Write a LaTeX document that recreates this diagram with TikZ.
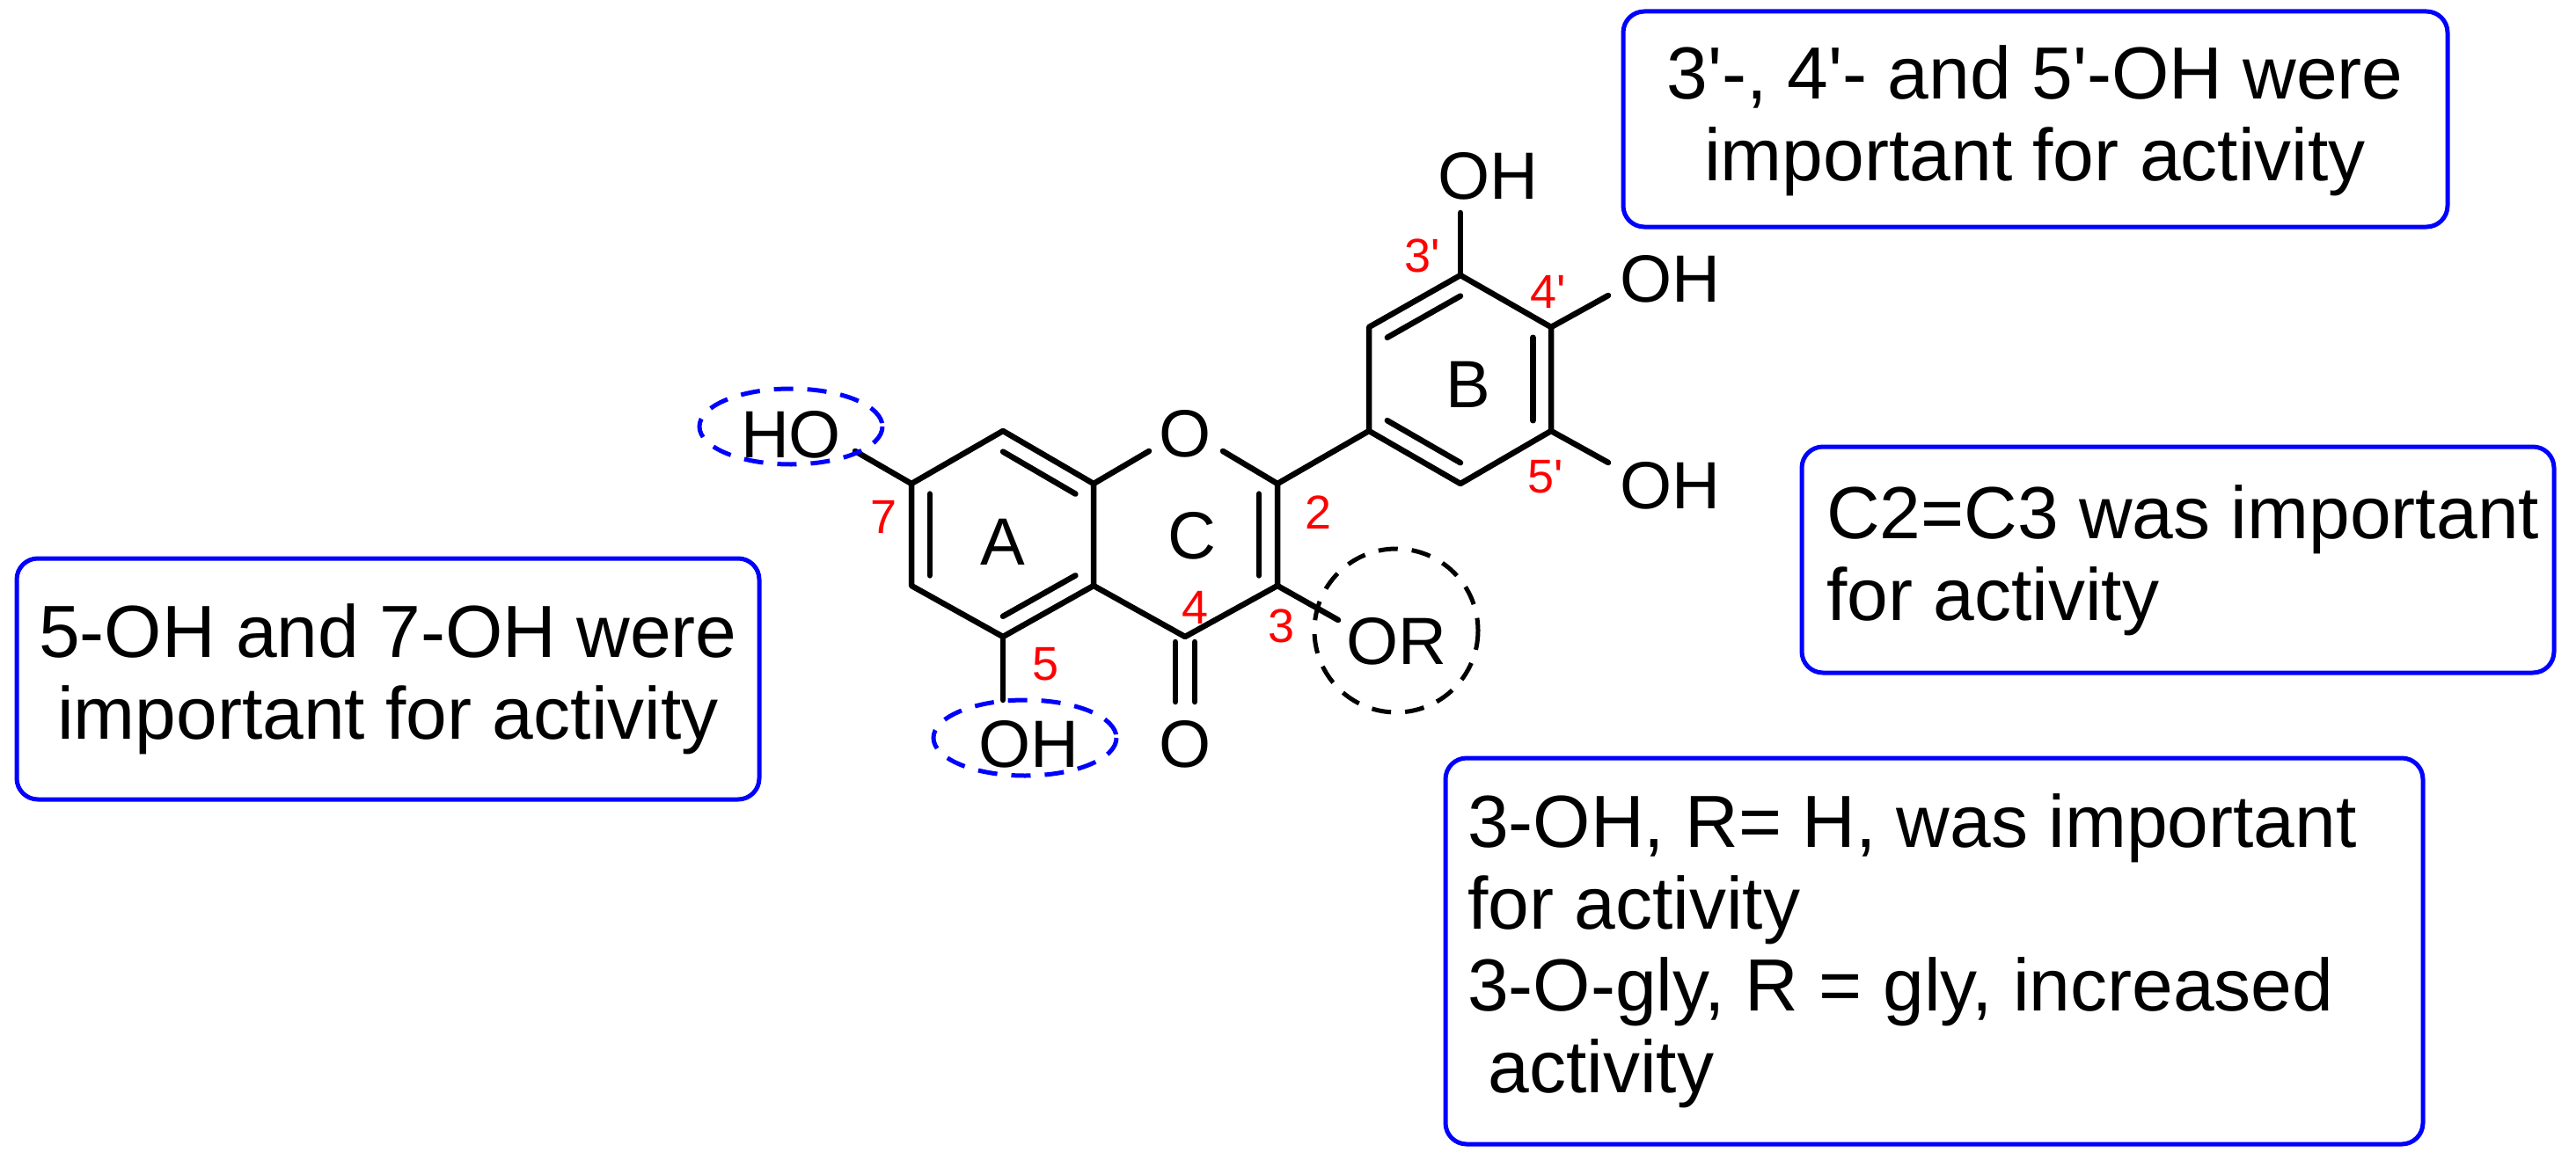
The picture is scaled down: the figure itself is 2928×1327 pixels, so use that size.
\documentclass[tikz,border=0pt]{standalone}
\usepackage{fontspec}
\setmainfont{Liberation Sans}
\usetikzlibrary{calc}
\newcommand\myprime{\textquotesingle}
\begin{document}
\begin{tikzpicture}[x=1pt,y=-1pt,
  bond/.style={line width=6.5pt,line cap=round,line join=round},
  atom/.style={font=\fontsize{76}{76}\selectfont,inner sep=0pt},
  num/.style={font=\fontsize{54}{54}\selectfont,text=red,inner sep=0pt},
  box/.style={draw=blue,line width=5pt,rounded corners=24pt},
  btxt/.style={font=\fontsize{84}{93}\selectfont,inner sep=0pt},
  hl/.style={draw=blue,line width=5pt,dash pattern=on 22pt off 16pt}]
\useasboundingbox (0,0) rectangle (2928,1327);
% atoms
\coordinate (c7) at (1036,550); \coordinate (c8) at (1140,490);
\coordinate (c8a) at (1243,550); \coordinate (c4a) at (1243,666);
\coordinate (c5) at (1140,724); \coordinate (c6) at (1036,666);
\coordinate (c2) at (1452,550); \coordinate (c3) at (1452,666);
\coordinate (c4) at (1347,724);
\coordinate (b1) at (1556,490); \coordinate (b2) at (1556,372);
\coordinate (b3) at (1660,313); \coordinate (b4) at (1763,372);
\coordinate (b5) at (1763,490); \coordinate (b6) at (1660,550);
\coordinate (cA) at (1140,608); \coordinate (cC) at (1347,608); \coordinate (cB) at (1660,431);
% bond end points near labels
\coordinate (o1l) at (1306,513); \coordinate (o1r) at (1390,513);
\coordinate (ho7e) at (972,513); \coordinate (oh5e) at (1140,796);
\coordinate (co) at (1347,798); \coordinate (ore) at (1521,705);
\coordinate (oh3e) at (1660,242); \coordinate (oh4e) at (1828,336); \coordinate (oh5pe) at (1828,526);
% ring bonds
\draw[bond] (c7)--(c8)--(c8a)--(c4a)--(c5)--(c6)--cycle;
\draw[bond] (c4a)--(c4)--(c3)--(c2);
\draw[bond] (c8a)--(o1l); \draw[bond] (c2)--(o1r);
\draw[bond] (c2)--(b1);
\draw[bond] (b1)--(b2)--(b3)--(b4)--(b5)--(b6)--cycle;
\draw[bond] (c7)--(ho7e); \draw[bond] (c5)--(oh5e); \draw[bond] (c3)--(ore);
\draw[bond] (b3)--(oh3e); \draw[bond] (b4)--(oh4e); \draw[bond] (b5)--(oh5pe);
\draw[bond] ($(c4)+(-11,6)$)--($(co)+(-11,0)$);
\draw[bond] ($(c4)+(11,6)$)--($(co)+(11,0)$);
% inner double bonds
\draw[bond] ($(c7)!0.2!(cA)$)--($(c6)!0.2!(cA)$);
\draw[bond] ($(c8)!0.2!(cA)$)--($(c8a)!0.2!(cA)$);
\draw[bond] ($(c5)!0.2!(cA)$)--($(c4a)!0.2!(cA)$);
\draw[bond] ($(c2)!0.2!(cC)$)--($(c3)!0.2!(cC)$);
\draw[bond] ($(b2)!0.2!(cB)$)--($(b3)!0.2!(cB)$);
\draw[bond] ($(b4)!0.2!(cB)$)--($(b5)!0.2!(cB)$);
\draw[bond] ($(b1)!0.2!(cB)$)--($(b6)!0.2!(cB)$);
% atom labels
\node[atom] (o1) at (1347,493) {O};
\node[atom] (ho7) at (899,494) {HO};
\node[atom] (oh5) at (1169,846) {OH};
\node[atom] (ocarb) at (1347,846) {O};
\node[atom] (or) at (1587,729) {OR};
\node[atom] (oh3) at (1691,200) {OH};
\node[atom] (oh4) at (1898,317) {OH};
\node[atom] (oh5p) at (1898,552) {OH};
\node[atom] (la) at (1140,616) {A};
\node[atom] (lc) at (1355,609) {C};
\node[atom] (lb) at (1669,437) {B};
% numbers
\node[num] (n7) at (1005,588) {7};
\node[num] (n2) at (1498,583) {2};
\node[num] (n4) at (1358,691) {4};
\node[num] (n3) at (1456,712) {3};
\node[num] (n5) at (1189,755) {5};
\node[num] (n3p) at (1617,291) {3\myprime};
\node[num] (n4p) at (1760,332) {4\myprime};
\node[num] (n5p) at (1757,542) {5\myprime};
% highlights
\draw[hl] (899,485) ellipse [x radius=104, y radius=43];
\draw[hl] (1165,839) ellipse [x radius=104, y radius=43];
\draw[line width=5pt,dash pattern=on 22pt off 16pt] (1587,717) circle [radius=93];
% boxes
\draw[box] (1845,13) rectangle (2782,258);
\node[btxt,align=center] (t1) at (2313,137) {3\myprime-, 4\myprime- and 5\myprime-OH were\\important for activity};
\draw[box] (2048,508) rectangle (2903,765);
\node[btxt,align=left,anchor=west] (t2) at (2076,637) {C2=C3 was important\\for activity};
\draw[box] (19,635) rectangle (863,909);
\node[btxt,align=center] (t3) at (441,772) {5-OH and 7-OH were\\important for activity};
\draw[box] (1643,862) rectangle (2754,1301);
\node[btxt,align=left,anchor=west] (t4) at (1668,1081) {3-OH, R= H, was important\\for activity\\3-O-gly, R = gly, increased\\ \ activity};
\end{tikzpicture}
\end{document}
